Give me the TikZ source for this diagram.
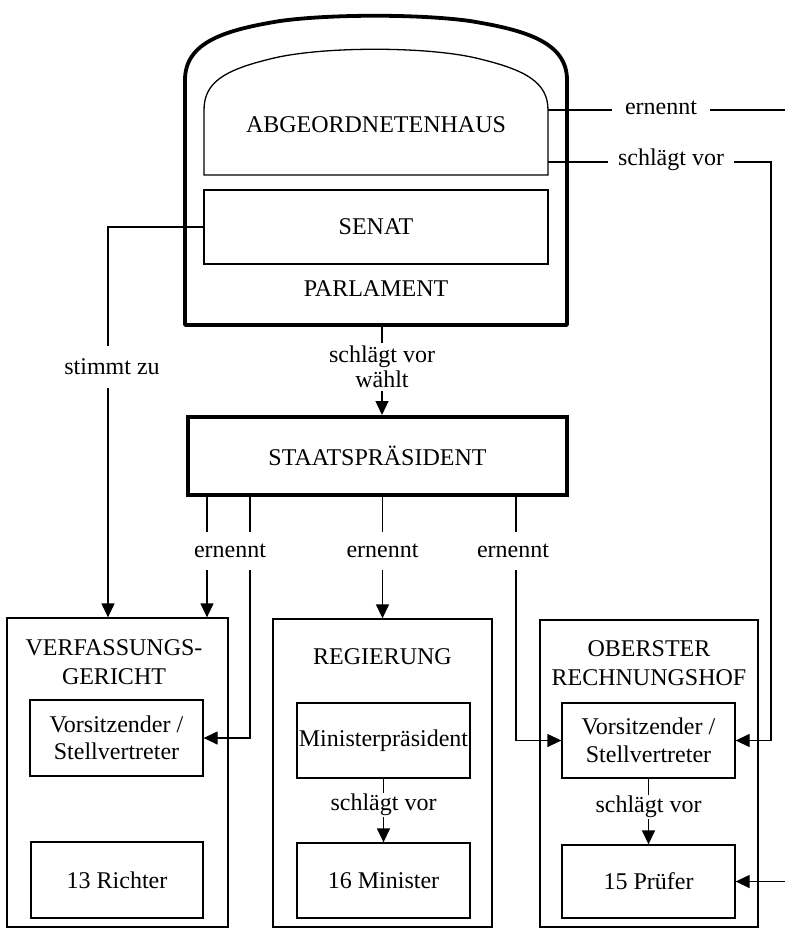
\documentclass[tikz,border=0pt]{standalone}
\usepackage{fontspec}
\setmainfont{Liberation Serif}
\usetikzlibrary{arrows.meta}
\begin{document}
\begin{tikzpicture}[x=1pt,y=-1pt,
  every node/.style={font=\fontsize{24}{27.5}\selectfont, inner sep=0pt, align=center},
  box/.style={draw, line width=1.3pt},
  conn/.style={line width=1.3pt},
  heavy/.style={line width=3.8pt},
  arr/.style={conn,-{Triangle[length=14pt,width=13pt]}},
  lbl/.style={fill=white, inner xsep=3pt, inner ysep=9pt},
  title/.style={font=\fontsize{24}{29}\selectfont},
]
\useasboundingbox (0,0) rectangle (785,938);
\fill[white] (0,0) rectangle (785,938);

% Parlament
\draw[heavy, line join=round] (185,325) -- (185,80)
  .. controls (185,42) and (225,30) .. (280,21)
  .. controls (330,14) and (420,14) .. (470,21)
  .. controls (525,30) and (567,42) .. (567,80) -- (567,325) -- cycle;
\draw[conn] (204,175) -- (204,110)
  .. controls (204,82) and (225,70) .. (270,59)
  .. controls (320,46) and (430,46) .. (480,59)
  .. controls (525,70) and (548,82) .. (548,110) -- (548,175) -- cycle;
\node (abg) at (376,125) {ABGEORDNETENHAUS};
\node[box, minimum width=344pt, minimum height=74pt] (senat) at (376,227) {SENAT};
\node (parl) at (376,289) {PARLAMENT};
\coordinate (parlbot) at (382,325);
\coordinate (abgE) at (548,110);
\coordinate (abgS) at (548,162);
\coordinate (edgeE) at (785,110);
\coordinate (turnS) at (771,162);
\coordinate (edgeP) at (785,881.5);

% Staatspraesident
\node[draw, line width=4pt, minimum width=379pt, minimum height=78pt] (sp) at (377.5,456) {STAATSPRÄSIDENT};

% outer boxes
\node[box, minimum width=221pt, minimum height=309pt] (vg) at (117.5,772.5) {};
\node[box, minimum width=219pt, minimum height=308pt] (reg) at (382.5,773) {};
\node[box, minimum width=218pt, minimum height=307pt] (rh) at (649,773.5) {};
\node[title] (vgt) at (114,662.5) {VERFASSUNGS-\\GERICHT};
\node (regt) at (382.5,657) {REGIERUNG};
\node[title] (rht) at (649,663.5) {OBERSTER\\RECHNUNGSHOF};

% inner boxes
\node[box, minimum width=173pt, minimum height=76pt] (vgv) at (116.5,738) {Vorsitzender /\\Stellvertreter};
\node[box, minimum width=172pt, minimum height=76pt] (rich) at (117,880) {13 Richter};
\node[box, minimum width=173pt, minimum height=75pt] (mp) at (383.5,740.5) {Ministerpräsident};
\node[box, minimum width=173pt, minimum height=75pt] (mini) at (383.5,880.5) {16 Minister};
\node[box, minimum width=173pt, minimum height=75pt] (rhv) at (648.5,740.5) {Vorsitzender /\\Stellvertreter};
\node[box, minimum width=173pt, minimum height=73pt] (pru) at (648.5,881.5) {15 Prüfer};

% connectors
\draw[arr] (senat.west) -| ([xshift=-9.5pt]vg.north);
\node[lbl, inner ysep=13pt] (l1) at (112,367) {stimmt zu};

\draw[arr] (parlbot) -- (parlbot |- sp.north);
\node[fill=white, inner sep=3pt, font=\fontsize{24}{25}\selectfont] (l2) at (382,367) {schlägt vor\\wählt};

\draw[arr] ([xshift=-170.5pt]sp.south) -- ([xshift=-170.5pt]sp.south |- vg.north);
\draw[arr] ([xshift=-127.5pt]sp.south) |- (vgv.east);
\node[lbl, inner ysep=12pt] (l3) at (230,551) {ernennt};
\draw[arr] (sp.south -| reg.north) -- (reg.north);
\node[lbl, inner ysep=12pt] (l4) at (382.5,551) {ernennt};
\draw[arr] ([xshift=138.5pt]sp.south) |- (rhv.west);
\node[lbl, inner ysep=12pt] (l5) at (513,551) {ernennt};

\draw[conn] (abgE) -- (edgeE);
\node[fill=white, inner xsep=13pt, inner ysep=4pt] (l6) at (661,108) {ernennt};
\draw[arr] (abgS) -- (turnS) |- (rhv.east);
\node[fill=white, inner xsep=10pt, inner ysep=4pt] (l7) at (671,160) {schlägt vor};
\draw[arr] (edgeP) -- (pru.east);

\draw[arr] (mp.south) -- (mini.north);
\node[fill=white, inner sep=1pt] (l8) at (383.5,805) {schlägt vor};
\draw[arr] (rhv.south) -- (pru.north);
\node[fill=white, inner sep=1pt] (l9) at (648.5,807) {schlägt vor};
\end{tikzpicture}
\end{document}
